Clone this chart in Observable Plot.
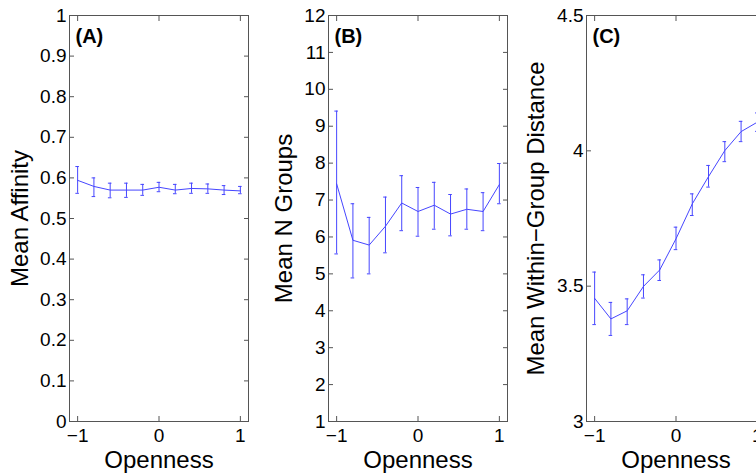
<!DOCTYPE html>
<html><head><meta charset="utf-8">
<script src="https://cdn.jsdelivr.net/npm/d3@7"></script>
<script src="https://cdn.jsdelivr.net/npm/@observablehq/plot@0.6"></script>
<style>
html,body{margin:0;padding:0;background:#fff;overflow:hidden;width:756px;height:475px}
#wrap{position:relative;width:756px;height:475px;overflow:hidden}
.panel{position:absolute;top:0;width:259px;height:475px}
.panel svg{max-width:none !important;width:259px !important;height:475px !important}
</style></head><body><div id="wrap"></div>
<script>
const openness = [-1, -0.8, -0.6, -0.4, -0.2, 0, 0.2, 0.4, 0.6, 0.8, 1];

const affinityMean = [0.594, 0.579, 0.570, 0.570, 0.570, 0.577, 0.570, 0.574, 0.573, 0.570, 0.568];
const affinityLow  = [0.562, 0.554, 0.551, 0.552, 0.557, 0.566, 0.561, 0.562, 0.562, 0.559, 0.561];
const affinityHigh = [0.628, 0.600, 0.587, 0.587, 0.584, 0.589, 0.584, 0.587, 0.585, 0.581, 0.579];

const groupsMean = [7.44, 5.91, 5.78, 6.29, 6.92, 6.69, 6.86, 6.62, 6.75, 6.69, 7.42];
const groupsLow  = [5.54, 4.89, 5.00, 5.57, 6.17, 6.02, 6.21, 6.03, 6.21, 6.17, 6.90];
const groupsHigh = [9.41, 6.90, 6.53, 7.08, 7.66, 7.34, 7.48, 7.15, 7.30, 7.20, 7.99];

const distanceMean = [3.455, 3.379, 3.409, 3.499, 3.560, 3.675, 3.804, 3.905, 4.001, 4.071, 4.106];
const distanceLow  = [3.358, 3.318, 3.358, 3.456, 3.521, 3.635, 3.761, 3.866, 3.960, 4.034, 4.072];
const distanceHigh = [3.552, 3.440, 3.453, 3.542, 3.597, 3.718, 3.841, 3.946, 4.034, 4.109, 4.140];

const xTicks = [-1, 0, 1];
const affinityTicks = [0, 0.1, 0.2, 0.3, 0.4, 0.5, 0.6, 0.7, 0.8, 0.9, 1];
const groupsTicks = [1, 2, 3, 4, 5, 6, 7, 8, 9, 10, 11, 12];
const distanceTicks = [3, 3.5, 4, 4.5];

const panelTags = ["(A)", "(B)", "(C)"];
const yLabels = ["Mean Affinity", "Mean N Groups", "Mean Within\u2212Group Distance"];
const xLabel = "Openness";

const FONT = "'Liberation Sans', Arial, Helvetica, sans-serif";
const BLUE = "#4646ff";
const AXIS = "#555";

function panel({mean, low, high, yDomain, yTicks, yLabel, tag, labelOffset}) {
  const rows = openness.map((x, i) => ({x, m: mean[i], lo: low[i], hi: high[i]}));
  const cap = 0.022;
  return Plot.plot({
    width: 259, height: 475,
    marginLeft: 69, marginRight: 11, marginTop: 15, marginBottom: 54,
    style: {fontFamily: FONT, fontSize: "19px", color: "#000", background: "transparent", overflow: "visible"},
    x: {domain: [-1.1, 1.1]},
    y: {domain: yDomain},
    marks: [
      Plot.axisX(xTicks, {anchor: "bottom", tickSize: -5, text: null, label: null, stroke: AXIS}),
      Plot.axisX(xTicks, {anchor: "top", tickSize: -5, text: null, label: null, stroke: AXIS}),
      Plot.axisX(xTicks, {anchor: "bottom", tickSize: 0, tickPadding: 7, label: null, fontSize: 19}),
      Plot.axisY(yTicks, {anchor: "left", tickSize: -5, text: null, label: null, stroke: AXIS}),
      Plot.axisY(yTicks, {anchor: "right", tickSize: -5, text: null, label: null, stroke: AXIS}),
      Plot.axisY(yTicks, {anchor: "left", tickSize: 0, tickPadding: 3, label: null, fontSize: 19, tickFormat: d => String(d)}),
      Plot.frame({stroke: AXIS, strokeWidth: 1}),
      Plot.ruleX(rows, {x: "x", y1: "lo", y2: "hi", stroke: BLUE, strokeWidth: 1}),
      Plot.ruleY(rows, {y: "lo", x1: d => d.x - cap, x2: d => d.x + cap, stroke: BLUE, strokeWidth: 1}),
      Plot.ruleY(rows, {y: "hi", x1: d => d.x - cap, x2: d => d.x + cap, stroke: BLUE, strokeWidth: 1}),
      Plot.line(rows, {x: "x", y: "m", stroke: BLUE, strokeWidth: 1}),
      Plot.text([tag], {text: d => d, frameAnchor: "top-left", dx: 6, dy: 13, fontWeight: "bold", fontSize: 20, textAnchor: "start", lineAnchor: "top"}),
      Plot.text([yLabel], {text: d => d, frameAnchor: "left", dx: -labelOffset, rotate: -90, fontSize: 24, lineAnchor: "bottom", textAnchor: "middle"}),
      Plot.text([xLabel], {text: d => d, frameAnchor: "bottom", dy: 46, fontSize: 24, lineAnchor: "bottom", textAnchor: "middle"})
    ]
  });
}

const specs = [
  {mean: affinityMean, low: affinityLow, high: affinityHigh, yDomain: [0, 1], yTicks: affinityTicks, yLabel: yLabels[0], tag: panelTags[0], labelOffset: 42, left: 0},
  {mean: groupsMean, low: groupsLow, high: groupsHigh, yDomain: [1, 12], yTicks: groupsTicks, yLabel: yLabels[1], tag: panelTags[1], labelOffset: 37, left: 259},
  {mean: distanceMean, low: distanceLow, high: distanceHigh, yDomain: [3, 4.5], yTicks: distanceTicks, yLabel: yLabels[2], tag: panelTags[2], labelOffset: 43, left: 517}
];

const wrap = document.getElementById("wrap");
for (const s of specs) {
  const div = document.createElement("div");
  div.className = "panel";
  div.style.left = s.left + "px";
  div.appendChild(panel(s));
  wrap.appendChild(div);
}
</script>
</body></html>
